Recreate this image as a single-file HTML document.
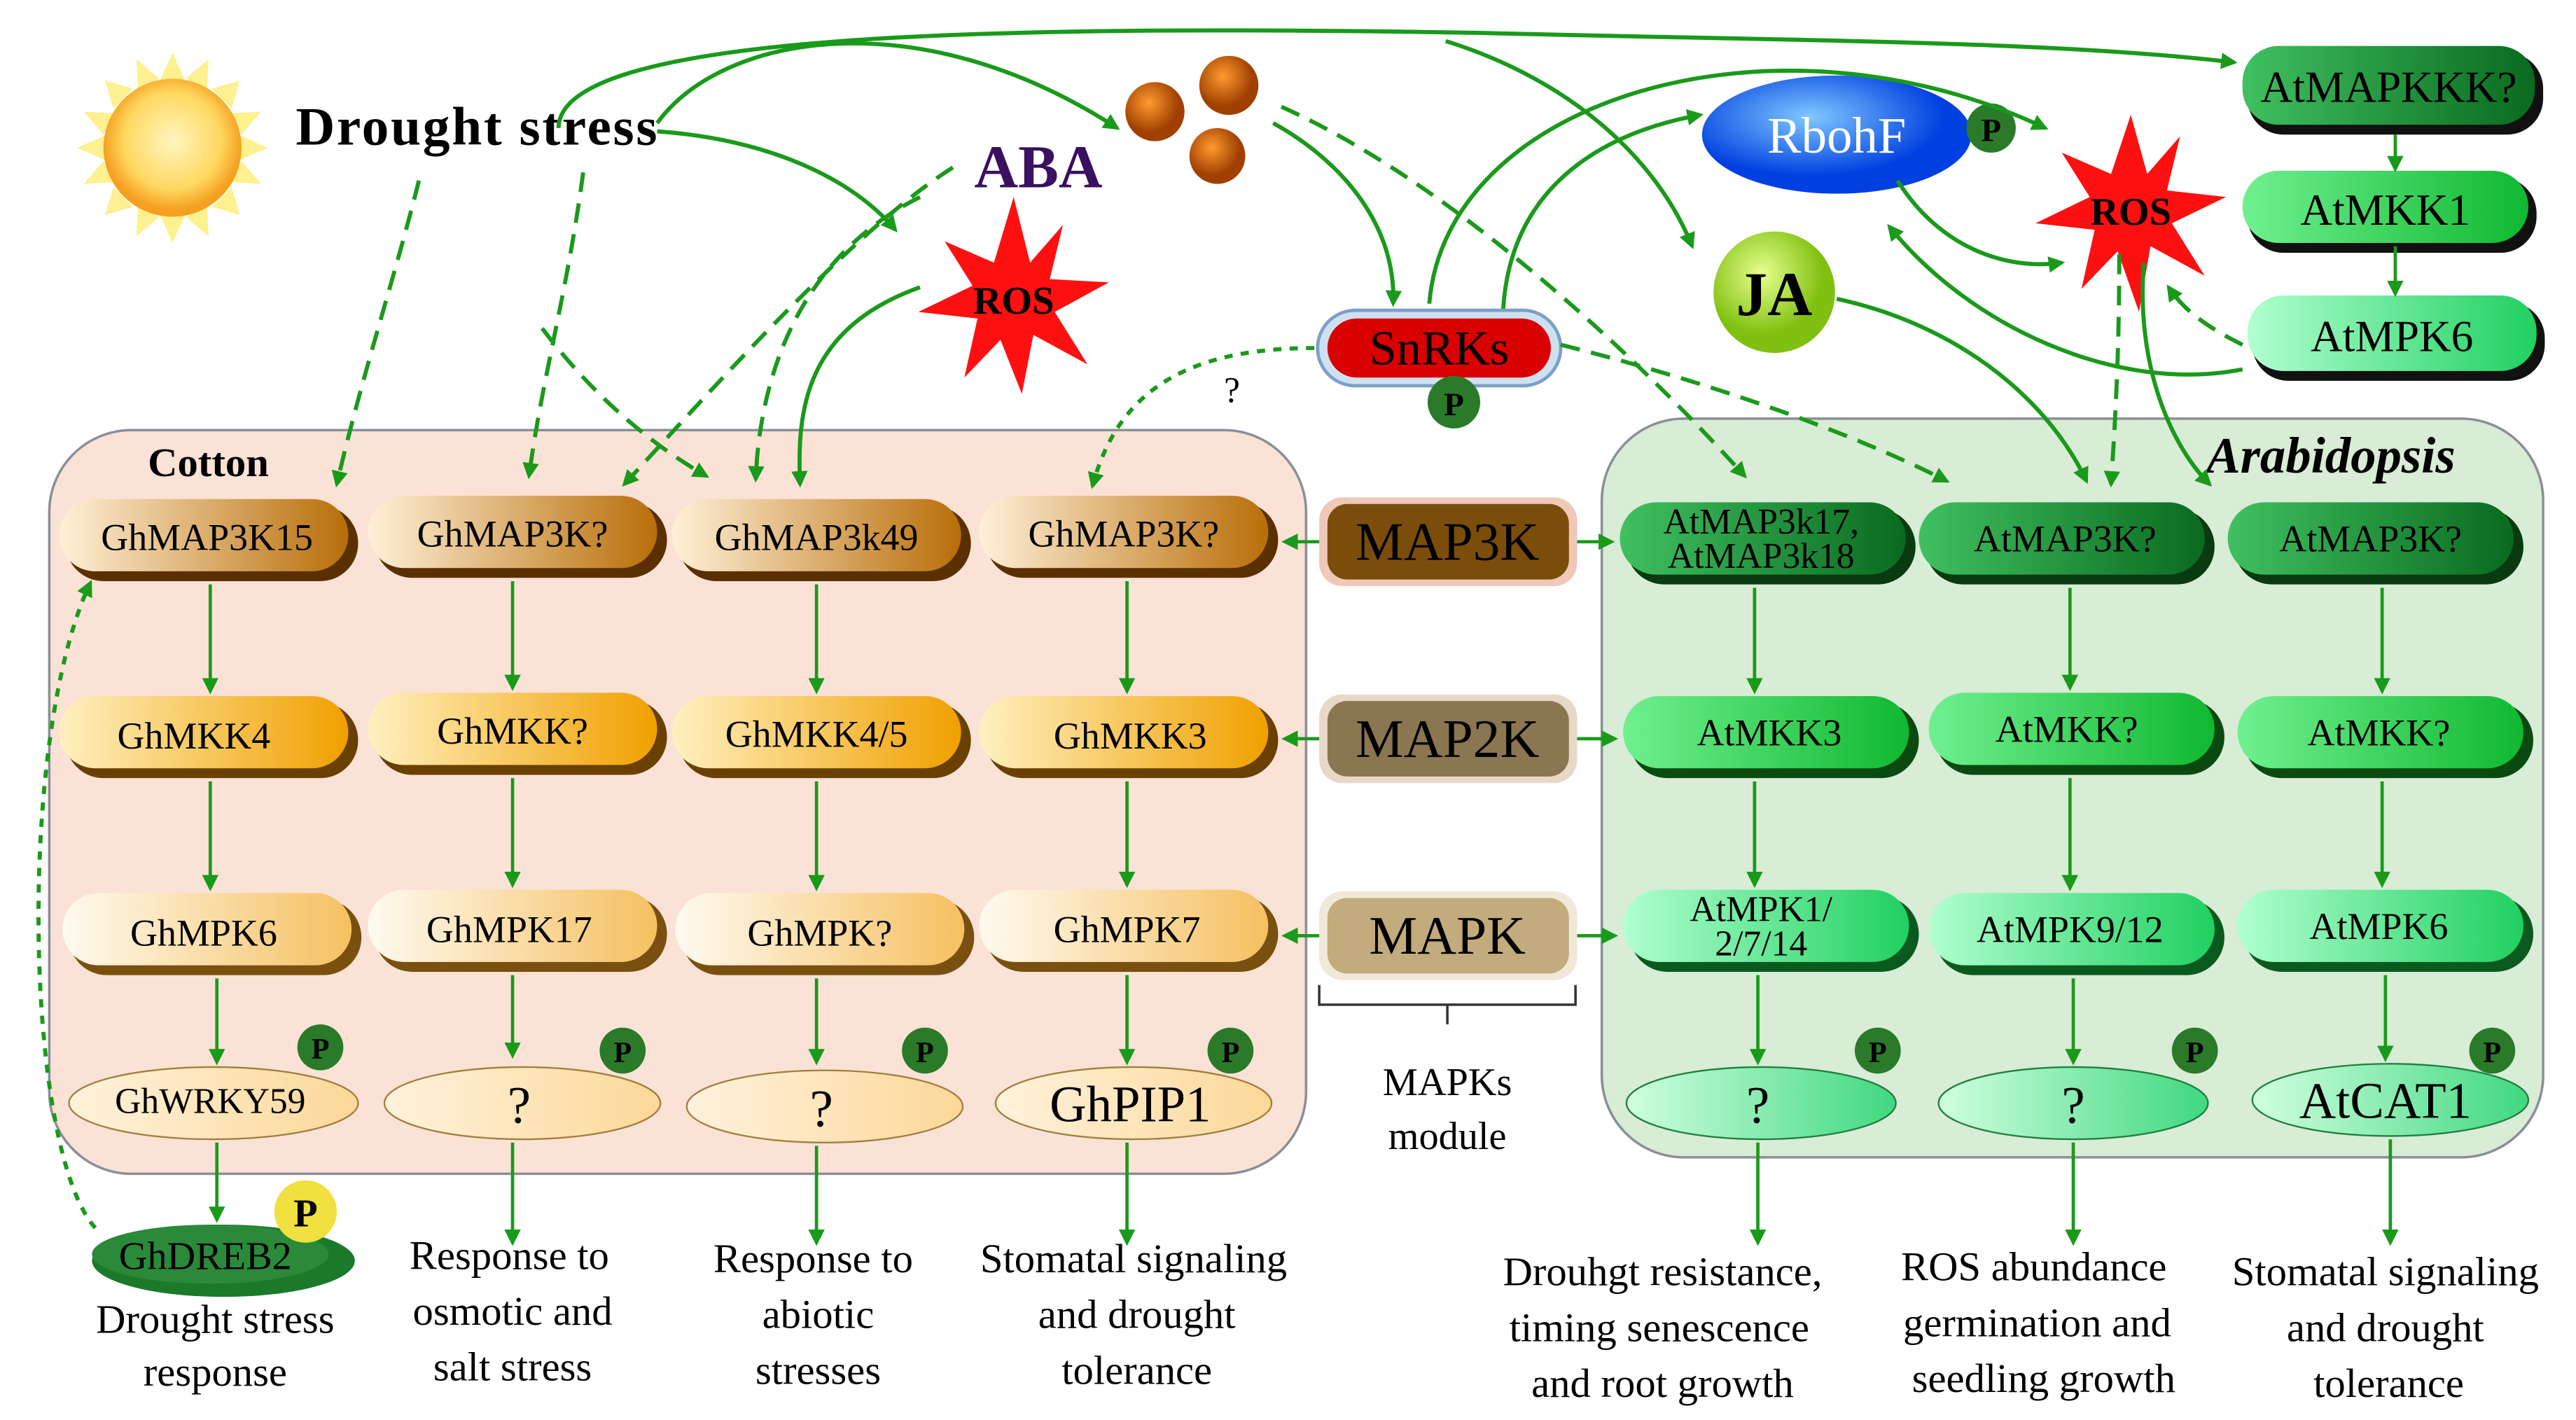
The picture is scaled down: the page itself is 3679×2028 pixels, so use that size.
<!DOCTYPE html>
<html><head><meta charset="utf-8"><style>
html,body{margin:0;padding:0;background:#fff;}
svg{display:block;}
text{font-family:"Liberation Serif",serif;}
</style></head><body>
<svg width="3679" height="2028" viewBox="0 0 1568 865" preserveAspectRatio="none" xmlns="http://www.w3.org/2000/svg">
<defs>
<marker id="ah" viewBox="0 0 10 10" refX="8" refY="5" markerWidth="6" markerHeight="6" markerUnits="userSpaceOnUse" orient="auto"><path d="M0,0 L10,5 L0,10 z" fill="#1a9a1a"/></marker>
<marker id="ahb" viewBox="0 0 10 10" refX="8" refY="5" markerWidth="10" markerHeight="10" markerUnits="userSpaceOnUse" orient="auto"><path d="M0,0 L10,5 L0,10 z" fill="#1a9a1a"/></marker>
<radialGradient id="sun" cx="50%" cy="45%" r="50%"><stop offset="0" stop-color="#fff6c0"/><stop offset="0.7" stop-color="#ffd860"/><stop offset="1" stop-color="#f5a020"/></radialGradient>
<linearGradient id="c3" x1="0" x2="1"><stop offset="0" stop-color="#fff0d8"/><stop offset="1" stop-color="#b86e08"/></linearGradient>
<linearGradient id="c2" x1="0" x2="1"><stop offset="0" stop-color="#fff0c0"/><stop offset="1" stop-color="#f0a000"/></linearGradient>
<linearGradient id="c1" x1="0" x2="1"><stop offset="0" stop-color="#fffaf0"/><stop offset="1" stop-color="#f5c060"/></linearGradient>
<linearGradient id="c0" x1="0" x2="1"><stop offset="0" stop-color="#fff2dc"/><stop offset="1" stop-color="#fcd898"/></linearGradient>
<linearGradient id="g3" x1="0" x2="1"><stop offset="0" stop-color="#40c060"/><stop offset="1" stop-color="#0a6a20"/></linearGradient>
<linearGradient id="g2" x1="0" x2="1"><stop offset="0" stop-color="#70f090"/><stop offset="1" stop-color="#10b830"/></linearGradient>
<linearGradient id="g1" x1="0" x2="1"><stop offset="0" stop-color="#b0ffd0"/><stop offset="1" stop-color="#20d060"/></linearGradient>
<linearGradient id="g0" x1="0" x2="1"><stop offset="0" stop-color="#d0ffe0"/><stop offset="1" stop-color="#40d880"/></linearGradient>
<radialGradient id="rb" cx="40%" cy="35%"><stop offset="0" stop-color="#80c8ff"/><stop offset="1" stop-color="#0040e0"/></radialGradient>
<radialGradient id="ja" cx="40%" cy="35%"><stop offset="0" stop-color="#e8ff90"/><stop offset="1" stop-color="#80c010"/></radialGradient>
<radialGradient id="ball" cx="40%" cy="35%"><stop offset="0" stop-color="#ff9a30"/><stop offset="1" stop-color="#a04000"/></radialGradient>
</defs>

<rect x="30" y="262" width="765" height="453" rx="50" fill="#fbe2d6" stroke="#8a8f98" stroke-width="1.5"/>
<rect x="975" y="255" width="573" height="450" rx="50" fill="#d8ecd6" stroke="#8a8f98" stroke-width="1.5"/>
<text x="90" y="290" font-size="25" font-weight="bold">Cotton</text>
<text x="1343" y="288" font-size="31" font-weight="bold" font-style="italic">Arabidopsis</text>

<g transform="translate(105,90)">
<g fill="#fff090">
<polygon points="0,-58 8,-40 -8,-40"/><polygon points="0,58 8,40 -8,40"/><polygon points="-58,0 -40,8 -40,-8"/><polygon points="58,0 40,8 40,-8"/>
<polygon points="41,-41 24,-36 36,-24"/><polygon points="-41,-41 -24,-36 -36,-24"/><polygon points="41,41 24,36 36,24"/><polygon points="-41,41 -24,36 -36,24"/>
<polygon points="22,-54 21,-36 8,-42"/><polygon points="-22,-54 -21,-36 -8,-42"/><polygon points="22,54 21,36 8,42"/><polygon points="-22,54 -21,36 -8,42"/>
<polygon points="54,-22 36,-21 42,-8"/><polygon points="-54,-22 -36,-21 -42,-8"/><polygon points="54,22 36,21 42,8"/><polygon points="-54,22 -36,21 -42,8"/>
</g>
<circle r="42" fill="url(#sun)"/>
</g>
<text x="180" y="88" font-size="33" font-weight="bold" textLength="220">Drought stress</text>
<text x="593" y="114" font-size="37" font-weight="bold" fill="#3a1060">ABA</text>
<circle cx="703" cy="68" r="18" fill="url(#ball)"/><circle cx="748" cy="52" r="18" fill="url(#ball)"/><circle cx="741" cy="95" r="17" fill="url(#ball)"/>

<g transform="translate(617,182)"><polygon points="0,-62 10,-22 30,-45 22,-12 58,-10 25,8 45,40 12,22 5,58 -8,25 -30,48 -22,12 -58,8 -25,-8 -42,-35 -12,-22" fill="#ff1010"/><text x="0" y="9" font-size="24" text-anchor="middle" font-weight="bold">ROS</text></g>
<g transform="translate(1297,128)"><polygon points="0,-58 10,-22 30,-45 22,-12 58,-8 25,8 45,40 12,22 5,62 -8,25 -30,48 -22,12 -58,8 -25,-8 -42,-35 -12,-22" fill="#ff1010"/><text x="0" y="9" font-size="24" text-anchor="middle" font-weight="bold">ROS</text></g>

<ellipse cx="1118" cy="82" rx="82" ry="36" fill="url(#rb)"/>
<text x="1118" y="93" font-size="31" text-anchor="middle" fill="#fff">RbohF</text>
<circle cx="1212" cy="78" r="15" fill="#2a7a2a"/><text x="1212" y="86" font-size="20" text-anchor="middle" font-weight="bold">P</text>
<circle cx="1080" cy="178" r="37" fill="url(#ja)"/><text x="1080" y="192" font-size="38" text-anchor="middle" font-weight="bold">JA</text>
<rect x="802" y="189" width="148" height="46" rx="23" fill="#cfe0f0" stroke="#7aa0c8" stroke-width="2"/>
<rect x="808" y="194" width="136" height="36" rx="18" fill="#d80000"/>
<text x="876" y="222" font-size="30" text-anchor="middle">SnRKs</text>
<circle cx="885" cy="245" r="16" fill="#2a7a2a"/><text x="885" y="253" font-size="20" text-anchor="middle" font-weight="bold">P</text>
<text x="745" y="245" font-size="22">?</text>

<g font-size="27" text-anchor="middle">
<rect x="1368" y="32" width="180" height="50" rx="22" fill="#111"/><rect x="1365" y="28" width="178" height="48" rx="22" fill="url(#g3)"/><text x="1454" y="62">AtMAPKKK?</text>
<rect x="1368" y="108" width="176" height="46" rx="22" fill="#111"/><rect x="1365" y="104" width="174" height="44" rx="22" fill="url(#g2)"/><text x="1452" y="137">AtMKK1</text>
<rect x="1371" y="184" width="178" height="48" rx="22" fill="#111"/><rect x="1368" y="180" width="176" height="46" rx="22" fill="url(#g1)"/><text x="1456" y="214">AtMPK6</text>
</g>

<g font-size="33" text-anchor="middle">
<rect x="803" y="303" width="157" height="54" rx="14" fill="#f0c8b8"/><rect x="808" y="307" width="147" height="46" rx="12" fill="#7a4e0a"/><text x="881" y="341">MAP3K</text>
<rect x="803" y="423" width="157" height="54" rx="14" fill="#e8d8c8"/><rect x="808" y="427" width="147" height="46" rx="12" fill="#8a7650"/><text x="881" y="461">MAP2K</text>
<rect x="803" y="543" width="157" height="54" rx="14" fill="#f0e8d8"/><rect x="808" y="547" width="147" height="46" rx="12" fill="#c2ab7c"/><text x="881" y="581">MAPK</text>
</g>
<path d="M803,600 v12 h78 v12 M881,612 h78 v-12" fill="none" stroke="#333" stroke-width="1.5"/>
<text x="881" y="667" font-size="24" text-anchor="middle">MAPKs</text><text x="881" y="700" font-size="24" text-anchor="middle">module</text>

<g font-size="23" text-anchor="middle">
<rect x="40" y="308" width="178" height="46" rx="23" fill="#5a3000"/><rect x="36" y="304" width="176" height="44" rx="22" fill="url(#c3)"/><text x="126" y="335">GhMAP3K15</text>
<rect x="228" y="306" width="178" height="46" rx="23" fill="#5a3000"/><rect x="224" y="302" width="176" height="44" rx="22" fill="url(#c3)"/><text x="312" y="333">GhMAP3K?</text>
<rect x="413" y="308" width="178" height="46" rx="23" fill="#5a3000"/><rect x="409" y="304" width="176" height="44" rx="22" fill="url(#c3)"/><text x="497" y="335">GhMAP3k49</text>
<rect x="600" y="306" width="178" height="46" rx="23" fill="#5a3000"/><rect x="596" y="302" width="176" height="44" rx="22" fill="url(#c3)"/><text x="684" y="333">GhMAP3K?</text>
<rect x="40" y="428" width="178" height="46" rx="23" fill="#6a4000"/><rect x="36" y="424" width="176" height="44" rx="22" fill="url(#c2)"/><text x="118" y="456">GhMKK4</text>
<rect x="228" y="426" width="178" height="46" rx="23" fill="#6a4000"/><rect x="224" y="422" width="176" height="44" rx="22" fill="url(#c2)"/><text x="312" y="453">GhMKK?</text>
<rect x="413" y="428" width="178" height="46" rx="23" fill="#6a4000"/><rect x="409" y="424" width="176" height="44" rx="22" fill="url(#c2)"/><text x="497" y="455">GhMKK4/5</text>
<rect x="600" y="428" width="178" height="46" rx="23" fill="#6a4000"/><rect x="596" y="424" width="176" height="44" rx="22" fill="url(#c2)"/><text x="688" y="456">GhMKK3</text>
<rect x="42" y="548" width="178" height="46" rx="23" fill="#7a5010"/><rect x="38" y="544" width="176" height="44" rx="22" fill="url(#c1)"/><text x="124" y="576">GhMPK6</text>
<rect x="228" y="546" width="178" height="46" rx="23" fill="#7a5010"/><rect x="224" y="542" width="176" height="44" rx="22" fill="url(#c1)"/><text x="310" y="574">GhMPK17</text>
<rect x="415" y="548" width="178" height="46" rx="23" fill="#7a5010"/><rect x="411" y="544" width="176" height="44" rx="22" fill="url(#c1)"/><text x="499" y="576">GhMPK?</text>
<rect x="600" y="546" width="178" height="46" rx="23" fill="#7a5010"/><rect x="596" y="542" width="176" height="44" rx="22" fill="url(#c1)"/><text x="686" y="574">GhMPK7</text>
</g>
<g text-anchor="middle">
<ellipse cx="130" cy="672" rx="88" ry="22" fill="url(#c0)" stroke="#a08040" stroke-width="1"/><text x="128" y="678" font-size="22">GhWRKY59</text>
<ellipse cx="318" cy="672" rx="84" ry="22" fill="url(#c0)" stroke="#a08040"/><text x="316" y="684" font-size="32">?</text>
<ellipse cx="502" cy="674" rx="84" ry="22" fill="url(#c0)" stroke="#a08040"/><text x="500" y="686" font-size="32">?</text>
<ellipse cx="690" cy="672" rx="84" ry="22" fill="url(#c0)" stroke="#a08040"/><text x="688" y="683" font-size="31">GhPIP1</text>
</g>
<g font-size="18" font-weight="bold" text-anchor="middle">
<circle cx="195" cy="638" r="14" fill="#2a7a2a"/><text x="195" y="645">P</text>
<circle cx="379" cy="640" r="14" fill="#2a7a2a"/><text x="379" y="647">P</text>
<circle cx="563" cy="640" r="14" fill="#2a7a2a"/><text x="563" y="647">P</text>
<circle cx="749" cy="640" r="14" fill="#2a7a2a"/><text x="749" y="647">P</text>
</g>
<ellipse cx="136" cy="768" rx="80" ry="22" fill="#1a7a2a"/><ellipse cx="128" cy="764" rx="72" ry="18" fill="#2a8a3a"/>
<text x="125" y="773" font-size="24" text-anchor="middle">GhDREB2</text>
<circle cx="186" cy="738" r="19" fill="#f0e040"/><text x="186" y="747" font-size="24" font-weight="bold" text-anchor="middle">P</text>

<g text-anchor="middle">
<rect x="990" y="310" width="176" height="46" rx="23" fill="#0a3a10"/><rect x="986" y="306" width="174" height="44" rx="22" fill="url(#g3)"/>
<text x="1072" y="325" font-size="22">AtMAP3k17,</text><text x="1072" y="346" font-size="22">AtMAP3k18</text>
<rect x="1172" y="310" width="176" height="46" rx="23" fill="#0a3a10"/><rect x="1168" y="306" width="174" height="44" rx="22" fill="url(#g3)"/><text x="1257" y="336" font-size="23">AtMAP3K?</text>
<rect x="1360" y="310" width="176" height="46" rx="23" fill="#0a3a10"/><rect x="1356" y="306" width="174" height="44" rx="22" fill="url(#g3)"/><text x="1443" y="336" font-size="23">AtMAP3K?</text>
<rect x="992" y="428" width="176" height="46" rx="23" fill="#0a4a10"/><rect x="988" y="424" width="174" height="44" rx="22" fill="url(#g2)"/><text x="1077" y="454" font-size="23">AtMKK3</text>
<rect x="1178" y="426" width="176" height="46" rx="23" fill="#0a4a10"/><rect x="1174" y="422" width="174" height="44" rx="22" fill="url(#g2)"/><text x="1258" y="452" font-size="23">AtMKK?</text>
<rect x="1366" y="428" width="176" height="46" rx="23" fill="#0a4a10"/><rect x="1362" y="424" width="174" height="44" rx="22" fill="url(#g2)"/><text x="1448" y="454" font-size="23">AtMKK?</text>
<rect x="992" y="546" width="176" height="46" rx="23" fill="#0a5a20"/><rect x="988" y="542" width="174" height="44" rx="22" fill="url(#g1)"/>
<text x="1072" y="561" font-size="22">AtMPK1/</text><text x="1072" y="582" font-size="22">2/7/14</text>
<rect x="1178" y="548" width="176" height="46" rx="23" fill="#0a5a20"/><rect x="1174" y="544" width="174" height="44" rx="22" fill="url(#g1)"/><text x="1260" y="574" font-size="23">AtMPK9/12</text>
<rect x="1366" y="546" width="176" height="46" rx="23" fill="#0a5a20"/><rect x="1362" y="542" width="174" height="44" rx="22" fill="url(#g1)"/><text x="1448" y="572" font-size="23">AtMPK6</text>
<ellipse cx="1072" cy="672" rx="82" ry="22" fill="url(#g0)" stroke="#208040"/><text x="1070" y="684" font-size="32">?</text>
<ellipse cx="1262" cy="672" rx="82" ry="22" fill="url(#g0)" stroke="#208040"/><text x="1262" y="684" font-size="32">?</text>
<ellipse cx="1455" cy="670" rx="84" ry="22" fill="url(#g0)" stroke="#208040"/><text x="1452" y="681" font-size="31">AtCAT1</text>
</g>
<g font-size="18" font-weight="bold" text-anchor="middle">
<circle cx="1143" cy="640" r="14" fill="#2a7a2a"/><text x="1143" y="647">P</text>
<circle cx="1336" cy="640" r="14" fill="#2a7a2a"/><text x="1336" y="647">P</text>
<circle cx="1517" cy="640" r="14" fill="#2a7a2a"/><text x="1517" y="647">P</text>
</g>

<g stroke="#1a9a1a" stroke-width="2" fill="none" marker-end="url(#ahb)">
<line x1="803" y1="330" x2="782" y2="330"/><line x1="960" y1="330" x2="981" y2="330"/>
<line x1="803" y1="450" x2="782" y2="450"/><line x1="960" y1="450" x2="983" y2="450"/>
<line x1="803" y1="570" x2="782" y2="570"/><line x1="960" y1="570" x2="983" y2="570"/>
<line x1="128" y1="356" x2="128" y2="421"/><line x1="128" y1="476" x2="128" y2="541"/><line x1="132" y1="596" x2="132" y2="647"/><line x1="132" y1="696" x2="132" y2="743"/>
<line x1="312" y1="354" x2="312" y2="419"/><line x1="312" y1="474" x2="312" y2="539"/><line x1="312" y1="594" x2="312" y2="643"/><line x1="312" y1="696" x2="312" y2="757"/>
<line x1="497" y1="356" x2="497" y2="421"/><line x1="497" y1="476" x2="497" y2="541"/><line x1="497" y1="596" x2="497" y2="647"/><line x1="497" y1="698" x2="497" y2="757"/>
<line x1="686" y1="354" x2="686" y2="421"/><line x1="686" y1="476" x2="686" y2="539"/><line x1="686" y1="594" x2="686" y2="647"/><line x1="686" y1="696" x2="686" y2="757"/>
<line x1="1068" y1="358" x2="1068" y2="421"/><line x1="1068" y1="476" x2="1068" y2="539"/><line x1="1070" y1="594" x2="1070" y2="647"/><line x1="1070" y1="696" x2="1070" y2="757"/>
<line x1="1260" y1="358" x2="1260" y2="419"/><line x1="1260" y1="474" x2="1260" y2="541"/><line x1="1262" y1="596" x2="1262" y2="647"/><line x1="1262" y1="696" x2="1262" y2="757"/>
<line x1="1450" y1="358" x2="1450" y2="421"/><line x1="1450" y1="476" x2="1450" y2="539"/><line x1="1452" y1="594" x2="1452" y2="645"/><line x1="1455" y1="694" x2="1455" y2="757"/>
<line x1="1458" y1="82" x2="1458" y2="103"/><line x1="1458" y1="150" x2="1458" y2="179"/>
</g>

<g stroke="#1a9a1a" stroke-width="2.5" fill="none" marker-end="url(#ahb)">
<path d="M340,78 C340,20 600,15 900,20 C1100,25 1250,25 1360,38"/>
<path d="M400,75 C440,20 560,0 680,78"/>
<path d="M400,80 C470,85 520,110 545,140"/>
<path d="M560,175 C490,200 485,250 487,295"/>
<path d="M775,75 C820,100 850,140 848,185"/>
<path d="M870,185 C880,60 1080,0 1245,78"/>
<path d="M915,188 C920,110 980,80 1035,70"/>
<path d="M880,25 C960,50 1010,100 1030,150"/>
<path d="M1155,110 C1180,150 1220,165 1255,160"/>
<path d="M1365,225 C1290,240 1200,200 1150,138"/>
<path d="M1118,182 C1200,200 1250,250 1270,293"/>
<path d="M1305,160 C1300,220 1320,270 1345,295"/>
</g>
<g stroke="#1a9a1a" stroke-width="2.5" fill="none" stroke-dasharray="12,7" marker-end="url(#ahb)">
<path d="M255,110 C240,170 220,230 205,295"/>
<path d="M355,105 C345,180 330,230 322,290"/>
<path d="M330,200 C360,240 395,270 430,290"/>
<path d="M580,102 C520,140 440,230 380,295"/>
<path d="M560,120 C480,160 462,240 460,292"/>
<path d="M780,65 C880,110 990,210 1062,290"/>
<path d="M950,210 C1030,230 1120,260 1185,293"/>
<path d="M1290,155 C1290,210 1288,250 1285,295"/>
<path d="M1365,210 C1345,200 1330,190 1320,175"/>
</g>
<g stroke="#1a9a1a" stroke-width="2.5" fill="none" stroke-dasharray="5,5" marker-end="url(#ahb)">
<path d="M800,212 C720,212 680,240 665,296"/>
<path d="M58,748 C15,700 10,450 55,355"/>
</g>

<g font-size="25" text-anchor="middle">
<text x="131" y="812">Drought stress</text><text x="131" y="844">response</text>
<text x="310" y="773">Response to</text><text x="312" y="807">osmotic and</text><text x="312" y="841">salt stress</text>
<text x="495" y="775">Response to</text><text x="498" y="809">abiotic</text><text x="498" y="843">stresses</text>
<text x="690" y="775">Stomatal signaling</text><text x="692" y="809">and drought</text><text x="692" y="843">tolerance</text>
<text x="1012" y="783">Drouhgt resistance,</text><text x="1010" y="817">timing senescence</text><text x="1012" y="851">and root growth</text>
<text x="1238" y="780">ROS abundance</text><text x="1240" y="814">germination and</text><text x="1244" y="848">seedling growth</text>
<text x="1452" y="783">Stomatal signaling</text><text x="1452" y="817">and drought</text><text x="1454" y="851">tolerance</text>
</g>
</svg>
</body></html>
